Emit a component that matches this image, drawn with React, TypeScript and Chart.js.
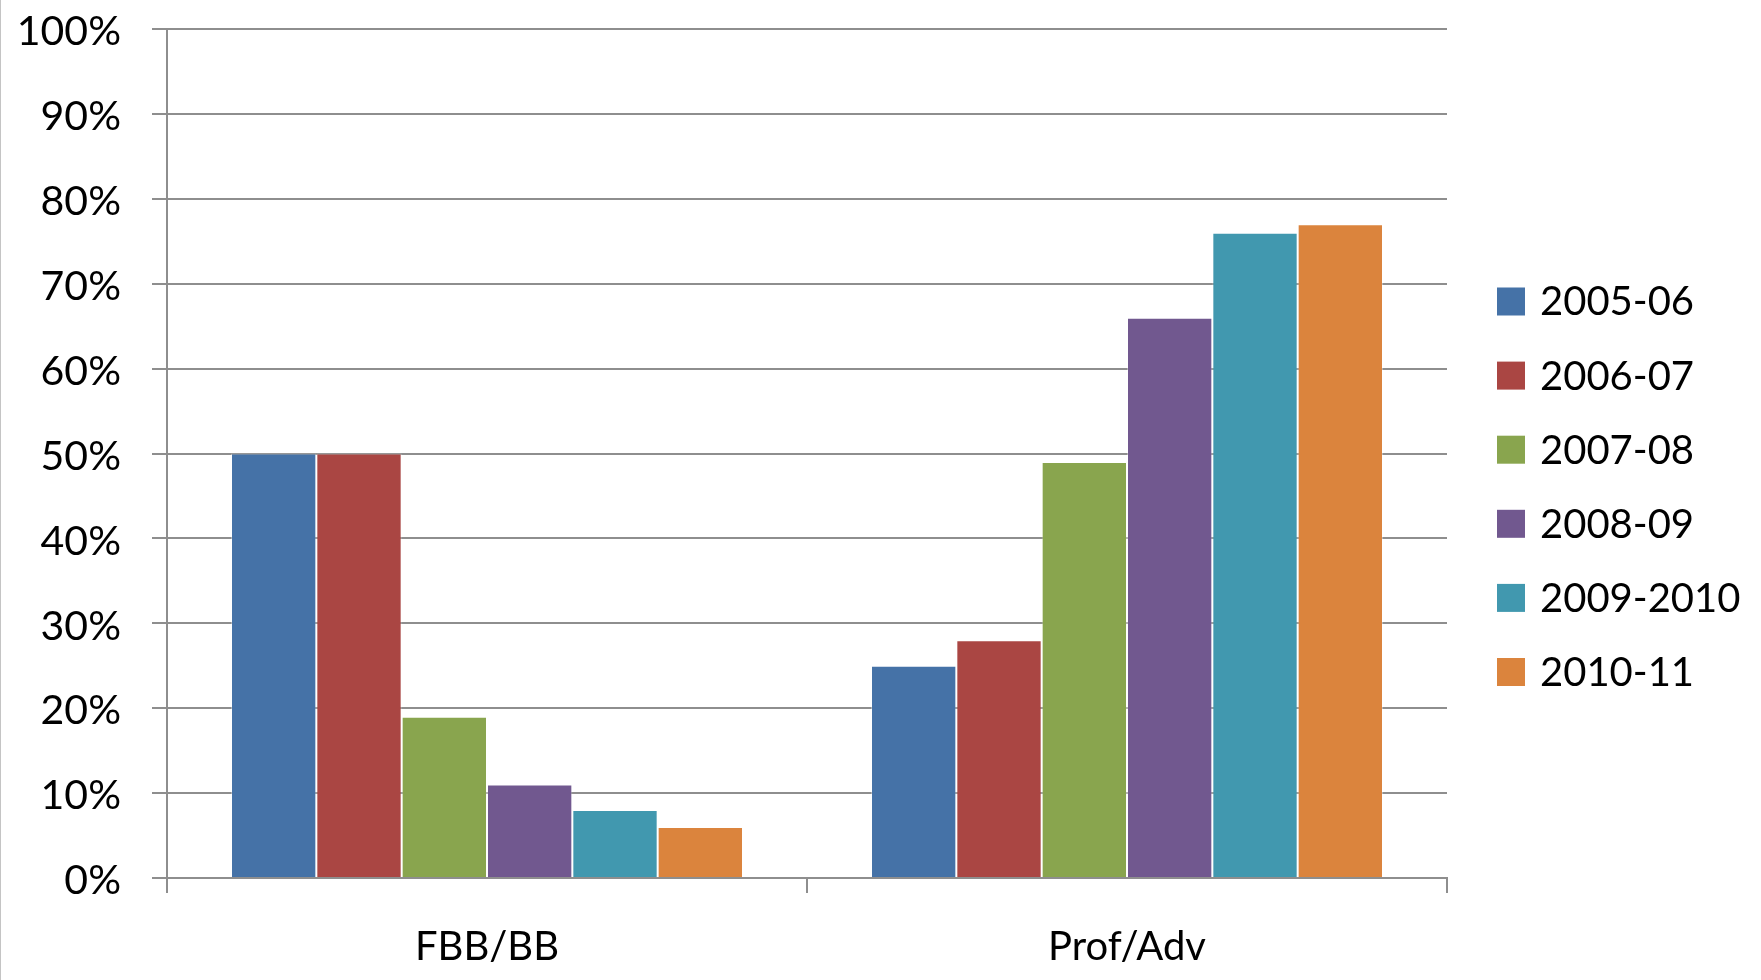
import React, { useEffect, useRef } from "react";
import { Chart, registerables } from "chart.js";

Chart.register(...registerables);

const categories = ["FBB/BB", "Prof/Adv"];
const seriesNames = ["2005-06", "2006-07", "2007-08", "2008-09", "2009-2010", "2010-11"];
const values2005 = [50, 25];
const values2006 = [50, 28];
const values2007 = [19, 49];
const values2008 = [11, 66];
const values2009 = [8, 76];
const values2010 = [6, 77];
const seriesColors = ["#4572A7", "#AA4643", "#89A54E", "#71588F", "#4198AF", "#DB843D"];
const yTicks = [0, 10, 20, 30, 40, 50, 60, 70, 80, 90, 100];

const seriesValues = [values2005, values2006, values2007, values2008, values2009, values2010];

const FONT = "Lato, 'Open Sans', sans-serif";
const GRID = "#8e8e8e";

// Vertical legend to the right of the plot area
const sideLegend = {
  id: "sideLegend",
  afterDraw(chart: Chart) {
    const { ctx } = chart;
    const x = 1497;
    const top = 301.5;
    const step = 74.1;
    ctx.save();
    ctx.font = `40px ${FONT}`;
    ctx.textBaseline = "middle";
    ctx.textAlign = "left";
    chart.data.datasets.forEach((ds, i) => {
      const cy = top + i * step;
      ctx.fillStyle = ds.backgroundColor as string;
      ctx.fillRect(x, cy - 14, 28, 28);
      ctx.fillStyle = "#000";
      ctx.fillText(String(ds.label), x + 43, cy + 1);
    });
    ctx.restore();
  },
};

export default function App() {
  const ref = useRef<HTMLCanvasElement | null>(null);

  useEffect(() => {
    if (!ref.current) return;
    const chart = new Chart(ref.current, {
      type: "bar",
      data: {
        labels: categories,
        datasets: seriesNames.map((name, i) => ({
          label: name,
          data: seriesValues[i],
          backgroundColor: seriesColors[i],
          borderColor: "rgba(255,255,255,0.35)",
          borderWidth: 1,
          categoryPercentage: 0.8,
          barPercentage: 1.0,
        })),
      },
      options: {
        responsive: false,
        animation: false,
        events: [],
        layout: { padding: { left: 0, top: 29, right: 314, bottom: 0 } },
        plugins: {
          legend: { display: false },
          tooltip: { enabled: false },
        },
        scales: {
          x: {
            afterFit(scale: any) {
              scale.height = 102;
            },
            grid: {
              offset: true,
              drawOnChartArea: false,
              drawTicks: true,
              tickLength: 15,
              color: GRID,
              lineWidth: 2,
            },
            border: { display: true, color: GRID, width: 2 },
            ticks: {
              color: "#000",
              font: { family: FONT, size: 40 },
              padding: 30,
            },
          },
          y: {
            min: 0,
            max: 100,
            afterFit(scale: any) {
              scale.width = 167;
              // tick labels may overhang the plot edges; keep the plot box fixed
              scale.paddingTop = 0;
              scale.paddingBottom = 0;
            },
            afterBuildTicks(scale: any) {
              scale.ticks = yTicks.map((v) => ({ value: v }));
            },
            grid: {
              color: GRID,
              lineWidth: 2,
              drawTicks: true,
              tickLength: 15,
            },
            border: { display: true, color: GRID, width: 2 },
            ticks: {
              color: "#000",
              font: { family: FONT, size: 41 },
              padding: 31,
              labelOffset: 3,
              callback: (v: any) => `${v}%`,
            },
          },
        },
      },
      plugins: [sideLegend],
    });
    return () => chart.destroy();
  }, []);

  return (
    <div style={{ position: "fixed", left: 0, top: 0, width: 1761, height: 980, background: "#fff" }}>
      <canvas ref={ref} width={1761} height={980} style={{ display: "block" }} />
      <div style={{ position: "absolute", left: 0, top: 0, width: 1, height: 980, background: "#c4c4c4" }} />
    </div>
  );
}
